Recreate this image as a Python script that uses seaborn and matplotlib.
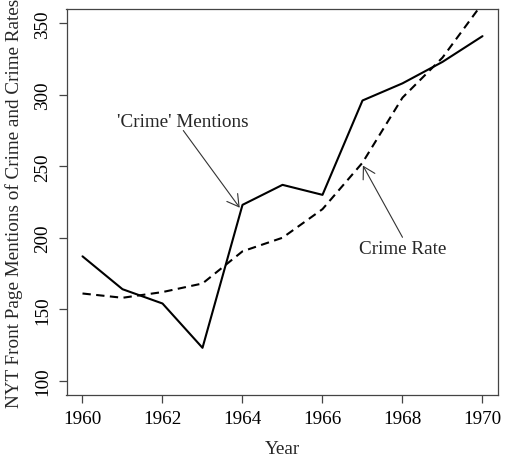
import matplotlib
matplotlib.use("Agg")
import matplotlib.pyplot as plt
import seaborn as sns
import pandas as pd

years = [1960, 1961, 1962, 1963, 1964, 1965, 1966, 1967, 1968, 1969, 1970]
crime_mentions = [187, 164, 154, 123, 223, 237, 230, 296, 308, 323, 341]
crime_rate = [161, 158, 162, 168, 190.5, 200, 220, 252.5, 298, 326, 364]
x_ticks = [1960, 1962, 1964, 1966, 1968, 1970]
y_ticks = [100, 150, 200, 250, 300, 350]

sns.set_style("ticks")
plt.rcParams['font.family'] = ['Liberation Serif', 'DejaVu Serif']

FS = 13.8

df = pd.DataFrame({"Year": years, "Mentions": crime_mentions, "Rate": crime_rate})

fig = plt.figure(figsize=(5.09, 4.64), dpi=100)
ax = fig.add_axes([66.5 / 509, 1 - 396 / 464, (498.5 - 66.5) / 509, (396 - 10) / 464])

sns.lineplot(data=df, x="Year", y="Mentions", ax=ax, color="black", linewidth=1.5)
sns.lineplot(data=df, x="Year", y="Rate", ax=ax, color="black", linewidth=1.5,
             dashes=False)
ax.lines[1].set_dashes([4, 2.6])

ax.set_xlim(1959.6, 1970.4)
ax.set_ylim(90, 360)
ax.set_xticks(x_ticks)
ax.set_yticks(y_ticks)
ax.set_xticklabels([str(t) for t in x_ticks], fontsize=FS)
ax.set_yticklabels([str(t) for t in y_ticks], fontsize=FS, rotation=90, va="center")

for s in ax.spines.values():
    s.set_linewidth(0.9)
    s.set_color("#444444")
ax.tick_params(axis="both", length=6, width=0.9, color="#444444", pad=5, labelcolor="black")

ax.set_xlabel("Year", fontsize=FS, labelpad=9)
ax.set_ylabel("NYT Front Page Mentions of Crime and Crime Rates", fontsize=FS, labelpad=8)

arrow = dict(arrowstyle="->, head_length=0.83, head_width=0.48", lw=0.8, color="#333333",
             shrinkA=0, shrinkB=0)
ax.annotate("", xy=(1963.93, 221), xytext=(1962.52, 275), arrowprops=arrow)
ax.text(1962.5, 281.2, "'Crime' Mentions", fontsize=FS, ha="center", va="center")
ax.annotate("", xy=(1967.01, 250.5), xytext=(1968.0, 200.3), arrowprops=arrow)
ax.text(1968.0, 192.6, "Crime Rate", fontsize=FS, ha="center", va="center")

fig.savefig("out.png", dpi=100)
